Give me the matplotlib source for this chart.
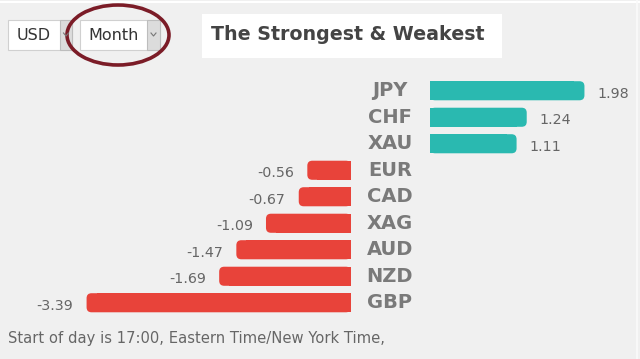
import matplotlib
matplotlib.use("Agg")
import matplotlib.pyplot as plt
from matplotlib.patches import FancyBboxPatch, Rectangle, Ellipse
from matplotlib.lines import Line2D
import matplotlib.transforms as mtransforms

# ---- data ----
currencies = ["JPY", "CHF", "XAU", "EUR", "CAD", "XAG", "AUD", "NZD", "GBP"]
values = [1.98, 1.24, 1.11, -0.56, -0.67, -1.09, -1.47, -1.69, -3.39]
title = "The Strongest & Weakest"
base_currency = "USD"
period = "Month"
footer = "Start of day is 17:00, Eastern Time/New York Time,"

W, H = 640, 359
BG = "#f0f0f0"
POS = "#2ab9b0"
NEG = "#e8433a"
LBL = "#7a7a7a"
VAL = "#666666"

fig = plt.figure(figsize=(W / 100, H / 100), dpi=100)
fig.patch.set_facecolor(BG)

def fx(px):
    return px / W

def fy(py):
    return 1 - py / H

# axes geometry (pixels)
row_top, row_bot = 77.5, 316.0
px_per_unit = 78.0
row_px = (row_bot - row_top) / len(currencies)
bar_h = 0.72

axL = fig.add_axes([0, fy(row_bot), fx(351), (row_bot - row_top) / H])
axR = fig.add_axes([fx(430), fy(row_bot), fx(W - 430), (row_bot - row_top) / H])
axL.set_xlim(-351 / px_per_unit, 0)
axR.set_xlim(0, (W - 430) / px_per_unit)
for ax in (axL, axR):
    ax.set_ylim(len(currencies) - 0.5, -0.5)
    ax.axis("off")
    ax.patch.set_alpha(0)

r_px = 5.0
r_x = r_px / px_per_unit
aspect = (1 / row_px) / (1 / px_per_unit)

for i, (c, v) in enumerate(zip(currencies, values)):
    ax = axR if v >= 0 else axL
    col = POS if v >= 0 else NEG
    sign = 1 if v >= 0 else -1
    # square inner part
    ax.barh(i, v - sign * 2 * r_x, height=bar_h, color=col, linewidth=0)
    # rounded full bar
    x0 = min(0, v)
    p = FancyBboxPatch((x0, i - bar_h / 2), abs(v), bar_h,
                       boxstyle=f"round,pad=0,rounding_size={r_x}",
                       mutation_aspect=aspect, facecolor=col, edgecolor="none")
    ax.add_patch(p)
    if v >= 0:
        ax.annotate(f"{v:.2f}", (v, i), xytext=(9.5, -2), textcoords="offset points",
                    ha="left", va="center", fontsize=10.3, color=VAL)
    else:
        ax.annotate(f"{v:.2f}", (v, i), xytext=(-9.5, -2), textcoords="offset points",
                    ha="right", va="center", fontsize=10.3, color=VAL)
    tr = mtransforms.blended_transform_factory(fig.transFigure, axR.transData)
    fig.text(fx(390), i, c, transform=tr, ha="center", va="center",
             fontsize=14, fontweight="bold", color=LBL)

# ---- header widgets ----
fig.add_artist(Line2D([0, 1], [fy(2), fy(2)], color="#ffffff", lw=1.5, transform=fig.transFigure))
fig.add_artist(Line2D([fx(637), fx(637)], [0, 1], color="#fafafa", lw=1.2, transform=fig.transFigure))
# title box
fig.add_artist(Rectangle((fx(202), fy(58)), fx(300), (58 - 14) / H, transform=fig.transFigure,
                         facecolor="white", edgecolor="none"))
fig.text(fx(348), fy(35), title, ha="center", va="center", fontsize=13.7,
         fontweight="bold", color="#444444")

def dropdown(x0, x1, xa, label):
    fig.add_artist(Rectangle((fx(x0), fy(50)), fx(x1 - x0), 30 / H, transform=fig.transFigure,
                             facecolor="white", edgecolor="#d0d0d0", lw=0.8))
    fig.add_artist(Rectangle((fx(xa), fy(50)), fx(x1 - xa), 30 / H, transform=fig.transFigure,
                             facecolor="#dcdcdc", edgecolor="#bdbdbd", lw=0.8))
    cx = (xa + x1) / 2
    fig.add_artist(Line2D([fx(cx - 2.5), fx(cx), fx(cx + 2.5)], [fy(33), fy(36), fy(33)],
                          color="#777777", lw=0.8, transform=fig.transFigure))
    fig.text(fx((x0 + xa) / 2), fy(36), label, ha="center", va="center",
             fontsize=11.5, color="#333333")

dropdown(8, 72, 60, base_currency)
dropdown(80, 160, 147, period)

fig.add_artist(Ellipse((fx(118), fy(35)), fx(102), 60 / H, transform=fig.transFigure,
                       facecolor="none", edgecolor="#7b1c27", lw=2.6))

fig.text(fx(8), fy(338), footer, ha="left", va="center", fontsize=10.6, color="#666666")

fig.savefig("out.png", dpi=100, facecolor=BG)
